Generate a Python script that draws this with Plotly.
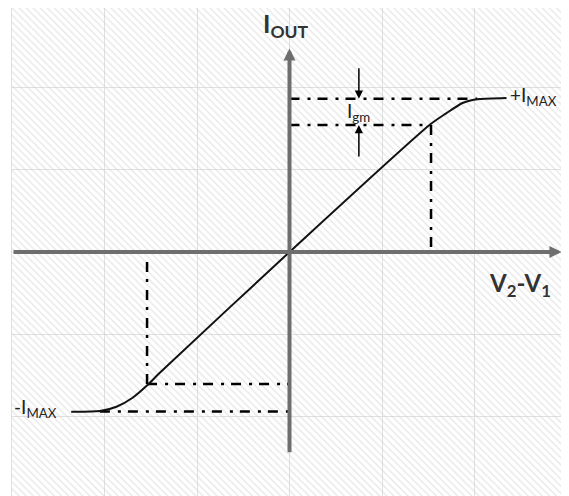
import plotly.graph_objects as go

# ---- data (grid units) ----
curve_x = [-2.36, -2.05, -1.87, -1.70, -1.535, -1.405, 0.0, 1.514, 1.694, 1.870, 1.978, 2.054, 2.346]
curve_y = [-1.948, -1.939, -1.887, -1.780, -1.622, -1.476, 0.0, 1.549, 1.691, 1.817, 1.854, 1.866, 1.878]

i_max_pos = 1.870      # +I_MAX level
i_max_neg = -1.945     # -I_MAX level
sat_x_pos = 2.03       # where +I_MAX reference line ends
sat_x_neg = -2.05      # where -I_MAX reference line starts
lin_x_pos, lin_y_pos = 1.53, 1.549    # end of linear region (upper)
lin_x_neg, lin_y_neg = -1.54, -1.61   # end of linear region (lower)
igm_x = 0.75
igm_top_tail, igm_bot_tail = 2.26, 1.146

x_range = [-3, 3]
y_range = [-2.975, 2.975]

axis_color = "#6e6e6e"
grid_color = "#e0e0e0"
dashdot = "10px,8px,3px,7px"
font_family = "Lato, 'Open Sans', sans-serif"

fig = go.Figure()

# hatched background
fig.add_trace(go.Scatter(
    x=[x_range[0], x_range[1], x_range[1], x_range[0], x_range[0]],
    y=[y_range[0], y_range[0], y_range[1], y_range[1], y_range[0]],
    mode="lines", line=dict(width=0), fill="toself",
    fillcolor="rgba(0,0,0,0)",
    fillpattern=dict(shape="\\", fgcolor="#cfcfcf", bgcolor="rgba(0,0,0,0)",
                     size=5, solidity=0.28),
    hoverinfo="skip", showlegend=False))

# dash-dot guide lines
guides = [
    ([0, sat_x_pos], [i_max_pos, i_max_pos]),
    ([0, lin_x_pos], [lin_y_pos, lin_y_pos]),
    ([lin_x_pos, lin_x_pos], [lin_y_pos, 0]),
    ([sat_x_neg, 0], [i_max_neg, i_max_neg]),
    ([lin_x_neg, 0], [lin_y_neg, lin_y_neg]),
    ([lin_x_neg, lin_x_neg], [lin_y_neg, 0]),
]
for gx, gy in guides:
    fig.add_trace(go.Scatter(x=gx, y=gy, mode="lines",
                             line=dict(color="black", width=2.5, dash=dashdot),
                             hoverinfo="skip", showlegend=False))

# transfer curve
fig.add_trace(go.Scatter(x=curve_x, y=curve_y, mode="lines",
                         line=dict(color="#111111", width=2, shape="spline", smoothing=0.7),
                         hoverinfo="skip", showlegend=False))

ann = []
# axes with arrows
ann.append(dict(x=2.94, y=0, ax=x_range[0], ay=0, xref="x", yref="y", axref="x", ayref="y",
                text="", showarrow=True, arrowhead=2, arrowsize=0.6, arrowwidth=4,
                arrowcolor=axis_color))
ann.append(dict(x=0, y=2.48, ax=0, ay=-2.46, xref="x", yref="y", axref="x", ayref="y",
                text="", showarrow=True, arrowhead=2, arrowsize=0.6, arrowwidth=4,
                arrowcolor=axis_color))
# I_gm arrows
ann.append(dict(x=igm_x, y=i_max_pos, ax=igm_x, ay=igm_top_tail, xref="x", yref="y",
                axref="x", ayref="y", text="", showarrow=True, arrowhead=2,
                arrowsize=1.1, arrowwidth=1.5, arrowcolor="black"))
ann.append(dict(x=igm_x, y=lin_y_pos, ax=igm_x, ay=igm_bot_tail, xref="x", yref="y",
                axref="x", ayref="y", text="", showarrow=True, arrowhead=2,
                arrowsize=1.1, arrowwidth=1.5, arrowcolor="black"))

# labels
ann.append(dict(x=-0.04, y=2.77, text="<b>I<sub>OUT</sub></b>", showarrow=False,
                font=dict(size=25, color="#333333", family=font_family)))
ann.append(dict(x=2.49, y=-0.40, text="<b>V<sub>2</sub>-V<sub>1</sub></b>", showarrow=False,
                font=dict(size=24, color="#333333", family=font_family)))
ann.append(dict(x=2.36, y=1.90, text="+I<sub>MAX</sub>", showarrow=False, xanchor="left",
                font=dict(size=19, color="#222222", family=font_family)))
ann.append(dict(x=-3.0, y=-1.90, text="-I<sub>MAX</sub>", showarrow=False, xanchor="left",
                font=dict(size=19, color="#222222", family=font_family)))
ann.append(dict(x=0.75, y=1.71, text="I<sub>gm</sub>", showarrow=False,
                font=dict(size=19, color="#222222", family=font_family)))

# the page adds an 8px body margin, so the figure is sized to fit the 569x496 window
fig.update_layout(
    width=561, height=488,
    margin=dict(l=4, r=2, t=0, b=0),
    paper_bgcolor="white", plot_bgcolor="white",
    showlegend=False, annotations=ann,
    xaxis=dict(range=x_range, dtick=1, tick0=0, showgrid=True, gridcolor=grid_color,
               gridwidth=1.3, zeroline=False, showticklabels=False, ticks="",
               showline=True, mirror=True, linecolor=grid_color, linewidth=1.3,
               fixedrange=True),
    yaxis=dict(range=y_range, dtick=1, tick0=0, showgrid=True, gridcolor=grid_color,
               gridwidth=1.3, zeroline=False, showticklabels=False, ticks="",
               showline=True, mirror=True, linecolor=grid_color, linewidth=1.3,
               fixedrange=True),
)

fig.write_html("out.html")
